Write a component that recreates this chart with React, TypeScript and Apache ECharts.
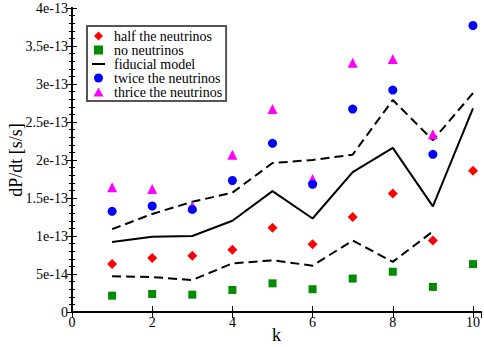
import React, { useEffect, useRef } from "react";
import * as echarts from "echarts";

const kValues = [1, 2, 3, 4, 5, 6, 7, 8, 9, 10];
// values in units of 1e-13 s/s
const halfNeutrinos = [0.63, 0.71, 0.74, 0.82, 1.11, 0.89, 1.25, 1.56, 0.94, 1.86];
const noNeutrinos = [0.215, 0.237, 0.228, 0.29, 0.377, 0.3, 0.44, 0.53, 0.33, 0.63];
const fiducial = [0.92, 0.99, 1.0, 1.2, 1.59, 1.23, 1.84, 2.16, 1.39, 2.68];
const upperBound = [1.09, 1.29, 1.45, 1.57, 1.96, 2.0, 2.07, 2.79, 2.26, 2.88];
const lowerBound = [0.47, 0.46, 0.42, 0.64, 0.68, 0.61, 0.94, 0.66, 1.06, null];
const twiceNeutrinos = [1.325, 1.395, 1.35, 1.73, 2.22, 1.68, 2.67, 2.92, 2.075, 3.77];
const thriceNeutrinos = [1.64, 1.62, 1.39, 2.07, 2.67, 1.75, 3.28, 3.33, 2.34, null];
const yTickLabels = ["0", "5e-14", "1e-13", "1.5e-13", "2e-13", "2.5e-13", "3e-13", "3.5e-13", "4e-13"];

const SCALE = 1e-13;
const toPairs = (vals: (number | null)[]) =>
  kValues.map((k, i) => [k, vals[i] == null ? null : (vals[i] as number) * SCALE]).filter((p) => p[1] != null);

const FONT = "'Liberation Serif', 'Times New Roman', serif";

export default function App() {
  const ref = useRef<HTMLDivElement>(null);
  useEffect(() => {
    if (!ref.current) return;
    const chart = echarts.init(ref.current, null, { renderer: "svg" });
    const axisLineStyle = { color: "#000", width: 2 };
    const yLabelFormatter = (v: number) => {
      const idx = Math.round(v / 5e-14);
      const s = yTickLabels[idx];
      return s == null ? "" : `{s|${s}}`;
    };
    const xLabelFormatter = (v: number) => `{s|${v}}`;
    const labelStyle = { fontFamily: FONT, fontSize: 14, color: "#000", fontWeight: "normal" };
    const rich = { s: { ...labelStyle } };
    chart.setOption({
      animation: false,
      backgroundColor: "#fff",
      textStyle: { fontFamily: FONT },
      grid: { left: 72, top: 8, right: 3, bottom: 35, containLabel: false, outerBoundsMode: "none" },
      legend: {
        orient: "vertical",
        left: 87,
        top: 26,
        padding: [3, 4, 2, 5],
        itemGap: 0,
        itemWidth: 13,
        itemHeight: 9,
        backgroundColor: "#fff",
        borderColor: "#555",
        borderWidth: 2,
        borderRadius: 0,
        textStyle: { fontFamily: FONT, fontSize: 14, color: "#000", lineHeight: 14, padding: [0, 0, 0, 4] },
        data: [
          { name: "half the neutrinos", icon: "path://M5,0L10,5L5,10L0,5Z" },
          { name: "no neutrinos", icon: "path://M-1,-1L9,-1L9,9L-1,9ZM0,0L8,0L8,8L0,8Z" },
          { name: "fiducial model", icon: "path://M0,0L13,0L13,2L0,2Z" },
          { name: "twice the neutrinos", icon: "path://M5,0A5,5 0 1,1 5,10A5,5 0 1,1 5,0Z" },
          { name: "thrice the neutrinos", icon: "path://M5,0L10,9L0,9Z" },
        ],
      },
      xAxis: [
        {
          type: "value",
          min: 0,
          max: 10.2,
          interval: 2,
          name: "k",
          nameLocation: "middle",
          nameGap: 14,
          nameMoveOverlap: false,
          nameTextStyle: { fontFamily: FONT, fontSize: 18, color: "#000" },
          axisLine: { lineStyle: axisLineStyle },
          axisTick: { inside: true, length: 6, lineStyle: { color: "#000", width: 1 } },
          axisLabel: { showMaxLabel: false, margin: 3, formatter: xLabelFormatter, rich, ...labelStyle },
          splitLine: { show: false },
        },
        {
          type: "value",
          position: "top",
          min: 0,
          max: 10.2,
          interval: 2,
          axisLine: { lineStyle: axisLineStyle },
          axisTick: { inside: true, length: 6, lineStyle: { color: "#000", width: 1 } },
          axisLabel: { show: false },
          splitLine: { show: false },
        },
      ],
      yAxis: [
        {
          type: "value",
          min: 0,
          max: 4e-13,
          interval: 5e-14,
          name: "dP/dt [s/s]",
          nameLocation: "middle",
          nameGap: 47,
          nameMoveOverlap: false,
          nameTextStyle: { fontFamily: FONT, fontSize: 18, color: "#000" },
          axisLine: { lineStyle: axisLineStyle },
          axisTick: { inside: true, length: 5, lineStyle: { color: "#000", width: 1 } },
          minorTick: { show: true, splitNumber: 5, length: 3, lineStyle: { color: "#000", width: 1 } },
          axisLabel: { formatter: yLabelFormatter, margin: 4, rich, ...labelStyle },
          splitLine: { show: false },
        },
        {
          type: "value",
          position: "right",
          min: 0,
          max: 4e-13,
          interval: 5e-14,
          axisLine: { lineStyle: axisLineStyle },
          axisTick: { inside: true, length: 5, lineStyle: { color: "#000", width: 1 } },
          minorTick: { show: true, splitNumber: 5, length: 3, lineStyle: { color: "#000", width: 1 } },
          axisLabel: { show: false },
          splitLine: { show: false },
        },
      ],
      series: [
        {
          name: "upper",
          type: "line",
          data: toPairs(upperBound),
          symbol: "none",
          lineStyle: { color: "#000", width: 2, type: [9, 5] },
          z: 2,
        },
        {
          name: "lower",
          type: "line",
          data: toPairs(lowerBound),
          symbol: "none",
          lineStyle: { color: "#000", width: 2, type: [9, 5] },
          z: 2,
        },
        {
          name: "fiducial model",
          type: "line",
          data: toPairs(fiducial),
          symbol: "none",
          itemStyle: { color: "#000" },
          lineStyle: { color: "#000", width: 2 },
          z: 2,
        },
        {
          name: "half the neutrinos",
          type: "scatter",
          data: toPairs(halfNeutrinos),
          symbol: "diamond",
          symbolSize: 10,
          itemStyle: { color: "#ff0000", opacity: 1 },
          z: 3,
        },
        {
          name: "no neutrinos",
          type: "scatter",
          data: toPairs(noNeutrinos),
          symbol: "rect",
          symbolSize: 8,
          itemStyle: { color: "#008b00", opacity: 1 },
          z: 3,
        },
        {
          name: "thrice the neutrinos",
          type: "scatter",
          data: toPairs(thriceNeutrinos),
          symbol: "triangle",
          symbolSize: 10,
          itemStyle: { color: "#ff00ff", opacity: 1 },
          z: 3,
        },
        {
          name: "twice the neutrinos",
          type: "scatter",
          data: toPairs(twiceNeutrinos),
          symbol: "circle",
          symbolSize: 9,
          itemStyle: { color: "#0000ff", opacity: 1 },
          z: 4,
        },
      ],
    });
    return () => chart.dispose();
  }, []);
  return (
    <div
      ref={ref}
      style={{ position: "fixed", left: 0, top: 0, width: 484, height: 347, background: "#fff" }}
    />
  );
}
